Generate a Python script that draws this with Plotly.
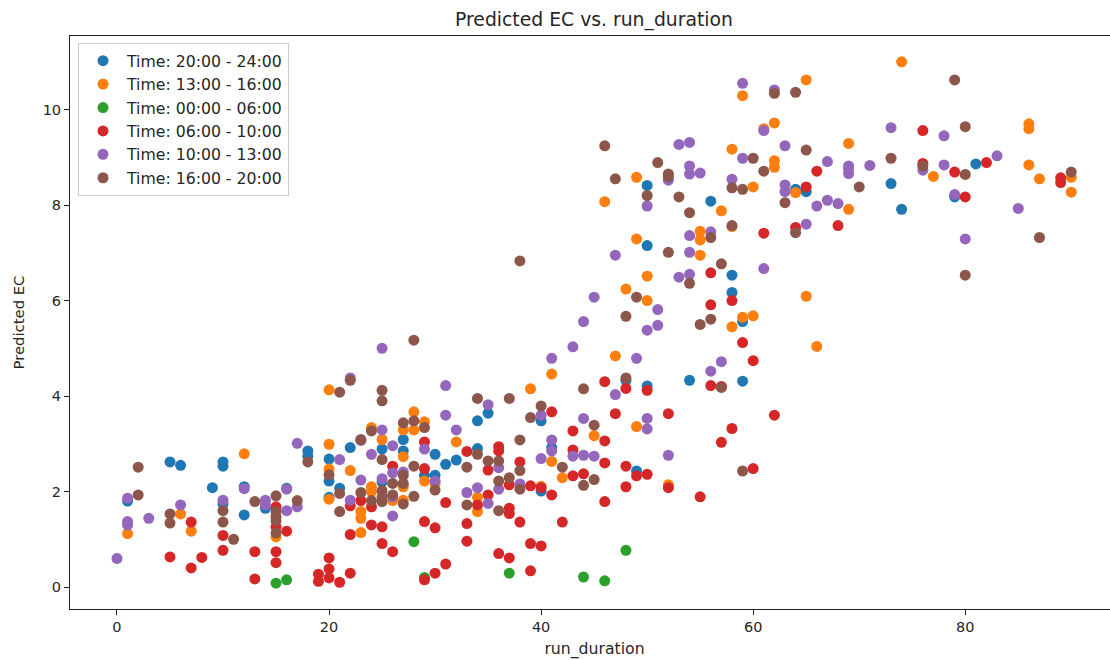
import plotly.graph_objects as go

title = "Predicted EC vs. run_duration"
x_label = "run_duration"
y_label = "Predicted EC"
x_ticks = [0, 20, 40, 60, 80]
y_ticks = [0, 2, 4, 6, 8, 10]

# (run_duration, predicted EC)
t_20_24 = [(1,1.80),(5,2.62),(6,2.55),(9,2.08),(10,2.62),(10,2.53),(10,1.74),(12,2.10),(12,1.51),(14,1.65),(16,2.07),(18,2.85),(18,2.74),(20,2.68),(20,2.22),(20,1.88),(21,2.07),(22,2.92),(25,2.89),(25,2.2),(27,3.09),(27,2.85),(29,2.34),(30,2.78),(30,2.34),(31,2.57),(32,2.66),(34,3.48),(34,2.90),(35,3.64),(40,3.48),(40,2.01),(41,2.92),(48,4.33),(49,2.43),(50,8.41),(50,7.15),(50,4.21),(54,4.33),(56,8.08),(58,6.53),(58,6.17),(59,5.56),(59,4.31),(64,8.33),(65,8.28),(73,8.45),(74,7.91),(79,8.17),(81,8.86)]
t_13_16 = [(1,1.12),(6,1.53),(7,1.17),(12,2.79),(15,1.05),(20,4.13),(20,2.99),(20,2.47),(20,1.84),(22,2.44),(23,1.58),(23,1.44),(23,1.14),(24,3.34),(24,2.10),(24,2.00),(25,3.09),(26,1.81),(27,3.29),(27,2.73),(27,2.10),(27,1.82),(28,3.67),(28,3.29),(29,3.46),(29,2.22),(30,2.17),(32,3.04),(34,1.88),(34,1.58),(39,4.15),(40,2.11),(41,4.46),(41,2.63),(42,2.29),(45,3.17),(46,8.07),(47,4.84),(48,6.24),(49,8.58),(49,7.29),(49,3.36),(50,6.51),(50,6.00),(52,2.14),(55,7.45),(55,7.27),(55,6.95),(57,7.88),(58,9.17),(58,7.55),(58,5.45),(59,10.29),(59,5.65),(60,8.38),(60,5.68),(61,9.60),(62,9.72),(62,8.93),(62,8.79),(64,8.26),(65,10.62),(65,6.09),(66,5.04),(69,9.29),(69,7.91),(74,11.0),(77,8.60),(86,9.70),(86,9.60),(86,8.84),(87,8.55),(90,8.58),(90,8.27)]
t_00_06 = [(15,0.08),(16,0.15),(28,0.95),(29,0.20),(37,0.29),(44,0.21),(46,0.13),(48,0.77)]
t_06_10 = [(5,.63),(7,1.36),(7,.40),(8,.62),(10,1.08),(10,.77),(13,.74),(13,.17),(15,1.68),(15,1.26),(15,.74),(15,.51),(16,1.17),(19,.27),(19,.12),(20,.61),(20,.38),(20,.19),(21,.10),(22,1.70),(22,1.10),(22,.29),(23,1.81),(24,1.68),(24,1.30),(25,1.26),(25,.91),(26,2.53),(26,.74),(29,3.04),(29,2.48),(29,1.37),(29,.15),(30,1.24),(30,.29),(31,1.77),(31,.48),(33,2.84),(33,1.33),(33,.96),(34,1.72),(35,2.45),(35,1.93),(36,2.94),(36,2.85),(36,.70),(37,2.14),(37,1.65),(37,1.54),(37,.61),(38,2.62),(38,1.36),(39,2.12),(39,.91),(39,.34),(40,2.08),(40,.86),(41,3.67),(41,1.93),(42,1.36),(43,3.27),(43,2.87),(43,2.33),(44,2.37),(46,4.30),(46,3.06),(46,2.60),(46,1.79),(47,3.63),(48,4.16),(48,2.53),(48,2.10),(49,2.33),(50,4.12),(50,2.36),(52,3.63),(52,2.08),(55,1.89),(56,6.58),(56,5.91),(56,4.22),(57,4.20),(57,3.03),(58,6.0),(58,3.32),(59,5.12),(60,4.74),(60,2.48),(61,7.41),(62,3.60),(64,7.53),(65,8.38),(66,8.71),(68,7.57),(76,9.56),(76,8.87),(79,8.69),(80,8.17),(82,8.89),(89,8.57),(89,8.47)]
t_10_13 = [(0,.60),(1,1.86),(1,1.37),(1,1.30),(3,1.44),(6,1.72),(10,1.82),(12,2.06),(14,1.82),(14,1.72),(16,2.05),(16,1.60),(17,1.68),(17,3.01),(21,2.67),(22,4.38),(22,1.82),(23,3.07),(23,2.24),(24,2.78),(25,5.0),(25,3.29),(25,2.27),(26,2.96),(26,2.39),(26,1.89),(26,1.49),(27,2.41),(29,2.89),(30,2.22),(31,4.22),(31,3.60),(32,3.29),(33,1.98),(34,2.08),(35,3.82),(35,1.75),(36,2.50),(36,2.05),(38,2.16),(40,3.60),(40,2.69),(41,4.79),(41,3.08),(41,2.85),(43,5.03),(43,2.74),(44,5.56),(44,3.53),(44,2.76),(45,6.07),(45,2.74),(47,6.95),(47,4.03),(49,4.79),(50,7.98),(50,5.38),(50,3.53),(50,3.31),(51,5.81),(51,5.48),(52,8.52),(52,2.76),(53,9.27),(53,6.49),(54,9.31),(54,8.82),(54,8.65),(54,7.36),(54,7.01),(54,6.55),(55,8.67),(56,7.44),(56,4.52),(57,4.72),(58,8.54),(59,10.55),(59,8.98),(61,9.56),(61,6.67),(62,10.41),(63,9.24),(63,8.42),(63,8.28),(65,7.60),(66,7.98),(67,8.91),(67,8.10),(68,8.03),(69,8.82),(69,8.75),(69,8.66),(71,8.83),(73,9.62),(76,8.73),(78,9.45),(78,8.84),(79,8.22),(80,7.29),(83,9.03),(85,7.93)]
t_16_20 = [(2,2.51),(2,1.93),(5,1.53),(5,1.34),(10,1.60),(10,1.36),(11,1.00),(13,1.79),(15,1.91),(15,1.58),(15,1.47),(15,1.39),(15,1.13),(17,1.81),(18,2.62),(20,2.35),(21,4.08),(21,1.96),(21,1.58),(22,4.33),(23,3.09),(23,1.98),(24,3.27),(24,1.81),(25,4.12),(25,3.90),(25,2.67),(25,2.02),(25,1.89),(25,1.79),(26,2.17),(26,1.93),(27,3.44),(27,2.34),(27,2.17),(27,1.74),(28,5.17),(28,3.48),(28,2.53),(28,1.90),(29,3.34),(30,2.03),(33,2.51),(33,1.72),(34,3.95),(34,2.78),(35,2.64),(36,2.64),(36,2.22),(36,1.60),(37,3.95),(37,2.29),(38,6.83),(38,3.08),(38,2.44),(38,2.05),(39,3.55),(40,3.79),(42,2.51),(44,4.15),(44,2.13),(45,3.39),(45,2.25),(46,9.24),(47,8.55),(48,5.67),(48,4.38),(49,6.07),(50,8.20),(51,8.89),(52,7.01),(52,8.65),(52,8.59),(53,8.17),(54,7.84),(54,6.36),(55,5.50),(56,7.32),(56,5.61),(57,6.77),(57,4.18),(58,8.36),(58,7.57),(59,8.33),(59,2.43),(60,8.98),(61,8.71),(62,10.34),(63,8.05),(64,10.36),(64,7.42),(65,9.15),(70,8.38),(73,8.98),(76,8.82),(79,10.62),(80,9.64),(80,8.64),(80,6.53),(87,7.32),(90,8.69)]

series = [
    ("Time: 20:00 - 24:00", t_20_24, "#1f77b4"),
    ("Time: 13:00 - 16:00", t_13_16, "#ff7f0e"),
    ("Time: 00:00 - 06:00", t_00_06, "#2ca02c"),
    ("Time: 06:00 - 10:00", t_06_10, "#d62728"),
    ("Time: 10:00 - 13:00", t_10_13, "#9467bd"),
    ("Time: 16:00 - 20:00", t_16_20, "#8c564b"),
]

FONT = "DejaVu Sans"
INK = "#262626"

fig = go.Figure()
for name, pts, color in series:
    fig.add_trace(go.Scatter(
        x=[p[0] for p in pts], y=[p[1] for p in pts],
        mode="markers", name=name,
        marker=dict(color=color, size=11, line=dict(width=0)),
    ))

axis = dict(
    showgrid=False, zeroline=False, showline=True, mirror=True,
    linecolor="#222222", linewidth=1, ticks="outside", ticklen=5,
    tickwidth=1, tickcolor="#222222",
    tickfont=dict(family=FONT, size=14.5, color=INK),
)
fig.update_layout(
    # The reference's axes run past the right edge of the frame, so the right spine is cropped off.
    width=1125, height=660, autosize=False,
    paper_bgcolor="white", plot_bgcolor="white",
    font=dict(family=FONT, size=14.5, color=INK),
    margin=dict(l=70, r=6.3, t=36, b=51, pad=0),
    title=dict(text=title, x=594 / 1125, xanchor="center", y=1 - 19 / 660, yanchor="middle",
               font=dict(family=FONT, size=18.8, color=INK)),
    xaxis=dict(axis, range=[-4.43, 94.5], tickvals=x_ticks,
               title=dict(text=x_label, standoff=8,
                          font=dict(family=FONT, size=15.7, color=INK))),
    yaxis=dict(axis, range=[-0.46, 11.54], tickvals=y_ticks,
               title=dict(text=y_label, standoff=14,
                          font=dict(family=FONT, size=14.8, color=INK))),
    legend=dict(
        x=(78 - 70) / 1048.7, y=1 - (43 - 36) / 573, xanchor="left", yanchor="top",
        bgcolor="rgba(255,255,255,0.8)", bordercolor="#cccccc", borderwidth=1,
        font=dict(family=FONT, size=15.7, color=INK),
        itemwidth=38,
    ),
)

fig.write_html("out.html", config={"displayModeBar": False},
               post_script="document.body.style.margin='0';document.documentElement.style.overflow='hidden';document.body.style.overflow='hidden';")
